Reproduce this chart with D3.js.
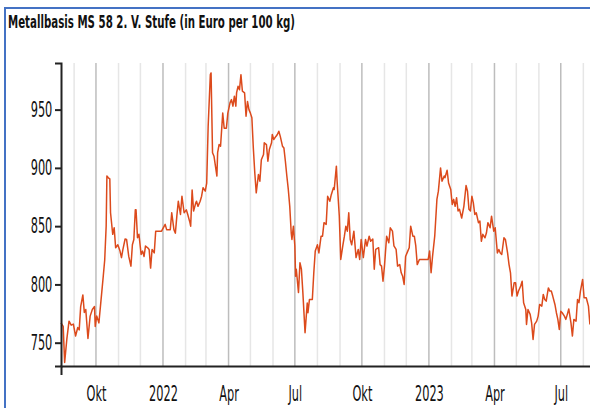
<!DOCTYPE html>
<html>
<head>
<meta charset="utf-8">
<script src="https://cdn.jsdelivr.net/npm/d3@7"></script>
<style>
  body { margin: 0; overflow: hidden; background: #fff; }
  #frame {
    position: absolute; left: 4px; top: 7px;
    width: 700px; height: 500px;
    border: 2px solid #4472c4;
  }
  #chart { position: absolute; left: 0; top: 0; }
</style>
</head>
<body>
<div id="frame"></div>
<div id="chart"></div>
<script>
const title = "Metallbasis MS 58 2. V. Stufe (in Euro per 100 kg)";

// quotation dates, month by month
const dates = [
  "2021-08-14","2021-08-17","2021-08-19","2021-08-22","2021-08-25","2021-08-28","2021-08-31",
  "2021-09-03","2021-09-06","2021-09-08","2021-09-10","2021-09-13","2021-09-15","2021-09-17","2021-09-20","2021-09-23","2021-09-26","2021-09-29","2021-09-30",
  "2021-10-02","2021-10-05","2021-10-08","2021-10-11","2021-10-13","2021-10-15","2021-10-16","2021-10-18","2021-10-20","2021-10-21","2021-10-24","2021-10-26","2021-10-28","2021-10-31",
  "2021-11-03","2021-11-05","2021-11-07","2021-11-10","2021-11-12","2021-11-15","2021-11-18","2021-11-20","2021-11-22","2021-11-24","2021-11-25","2021-11-27","2021-11-29",
  "2021-12-02","2021-12-04","2021-12-06","2021-12-08","2021-12-11","2021-12-13","2021-12-15","2021-12-17","2021-12-20","2021-12-22","2021-12-26","2021-12-30",
  "2022-01-04","2022-01-06","2022-01-11","2022-01-13","2022-01-16","2022-01-18","2022-01-20","2022-01-22","2022-01-25","2022-01-27","2022-01-30",
  "2022-02-02","2022-02-04","2022-02-07","2022-02-08","2022-02-10","2022-02-12","2022-02-15","2022-02-16","2022-02-18","2022-02-21","2022-02-23","2022-02-25","2022-02-28",
  "2022-03-02","2022-03-04","2022-03-07","2022-03-08","2022-03-10","2022-03-12","2022-03-14","2022-03-16","2022-03-17","2022-03-19","2022-03-21","2022-03-24","2022-03-26","2022-03-29","2022-03-31",
  "2022-04-03","2022-04-05","2022-04-07","2022-04-09","2022-04-11","2022-04-12","2022-04-14","2022-04-16","2022-04-18","2022-04-20","2022-04-23","2022-04-25","2022-04-27","2022-04-29",
  "2022-05-01","2022-05-03","2022-05-05","2022-05-07","2022-05-09","2022-05-12","2022-05-14","2022-05-16","2022-05-19","2022-05-20","2022-05-23","2022-05-25","2022-05-27","2022-05-30","2022-05-31",
  "2022-06-02","2022-06-05","2022-06-07","2022-06-09","2022-06-11","2022-06-14","2022-06-16","2022-06-18","2022-06-20","2022-06-22","2022-06-24","2022-06-26","2022-06-27","2022-06-29",
  "2022-07-01","2022-07-02","2022-07-03","2022-07-06","2022-07-08","2022-07-10","2022-07-12","2022-07-15","2022-07-18","2022-07-19","2022-07-21","2022-07-23","2022-07-25","2022-07-27","2022-07-29",
  "2022-08-01","2022-08-03","2022-08-06","2022-08-08","2022-08-10","2022-08-13","2022-08-15","2022-08-18","2022-08-20","2022-08-23","2022-08-24","2022-08-27","2022-08-28","2022-08-31",
  "2022-09-02","2022-09-05","2022-09-07","2022-09-09","2022-09-11","2022-09-13","2022-09-15","2022-09-17","2022-09-20","2022-09-23","2022-09-26","2022-09-28","2022-09-30",
  "2022-10-03","2022-10-06","2022-10-08","2022-10-11","2022-10-13","2022-10-16","2022-10-18","2022-10-20","2022-10-24","2022-10-26","2022-10-28","2022-10-30",
  "2022-11-01","2022-11-04","2022-11-07","2022-11-09","2022-11-12","2022-11-14","2022-11-17","2022-11-19","2022-11-22","2022-11-24","2022-11-26","2022-11-28","2022-11-30",
  "2022-12-03","2022-12-05","2022-12-07","2022-12-10","2022-12-12","2022-12-14","2022-12-16","2022-12-19","2022-12-24","2022-12-31",
  "2023-01-02","2023-01-04","2023-01-06","2023-01-09","2023-01-12","2023-01-14","2023-01-17","2023-01-19","2023-01-22","2023-01-23","2023-01-26","2023-01-28","2023-01-31",
  "2023-02-02","2023-02-04","2023-02-06","2023-02-08","2023-02-10","2023-02-12","2023-02-15","2023-02-18","2023-02-21","2023-02-23","2023-02-25","2023-02-27",
  "2023-03-01","2023-03-03","2023-03-05","2023-03-07","2023-03-10","2023-03-12","2023-03-14","2023-03-16","2023-03-19","2023-03-21","2023-03-23","2023-03-26","2023-03-28","2023-03-31",
  "2023-04-02","2023-04-05","2023-04-07","2023-04-09","2023-04-11","2023-04-14","2023-04-16","2023-04-19","2023-04-21","2023-04-23","2023-04-25","2023-04-28","2023-04-30",
  "2023-05-02","2023-05-04","2023-05-07","2023-05-09","2023-05-11","2023-05-14","2023-05-15","2023-05-17","2023-05-20","2023-05-22","2023-05-24","2023-05-26","2023-05-29","2023-05-31",
  "2023-06-02","2023-06-05","2023-06-07","2023-06-09","2023-06-11","2023-06-14","2023-06-16","2023-06-18","2023-06-20","2023-06-23","2023-06-25","2023-06-27","2023-06-29",
  "2023-07-01","2023-07-03","2023-07-06","2023-07-08","2023-07-10","2023-07-12","2023-07-15","2023-07-17","2023-07-19","2023-07-22","2023-07-24","2023-07-26","2023-07-28","2023-07-31",
  "2023-08-02","2023-08-05","2023-08-08","2023-08-10"
];

// Euro per 100 kg, same order as dates
const prices = [
  767, 764, 733, 753, 768.5, 765, 766,
  755.7, 763, 761, 781, 791, 776, 778.5, 753.7, 772.8, 778.5, 781, 764,
  773, 767, 787, 807, 821, 850, 893, 891.5, 890.6, 861.5, 843, 848.6, 831.5, 834,
  828.6, 823, 830, 839, 838.6, 824, 815.7, 834, 838.6, 864, 864, 840, 843,
  825.7, 828.6, 824, 833, 831.5, 830, 814, 830, 827, 845.7, 845.7, 845.7,
  851.5, 847, 847, 861.5, 847, 844, 858.6, 871.4, 860, 875.7, 861.5,
  864, 860, 853, 850, 881, 863, 870, 871.4, 867, 871.4, 875.7, 883, 880,
  887, 935.8, 980, 981.5, 913, 910, 901.5, 893, 913, 920, 918.6, 947, 934, 934, 947,
  955.8, 958.6, 953, 961.5, 953, 964.4, 970, 967, 980, 965.8, 964.4, 944.3, 957, 950,
  947, 943, 917, 895.8, 878.6, 894.3, 888.6, 907, 911.5, 921.5, 920, 905.7, 915.8, 921.5, 928.6,
  924.4, 927, 928.6, 931.5, 927, 918.6, 917, 905.7, 893, 881.5, 867, 844.3, 838.6, 850,
  833, 807, 813, 793, 818.6, 813, 793, 758.6, 784, 775.7, 787, 787, 787, 810, 828.6,
  834, 827, 841.4, 841.4, 853, 851.5, 875.7, 871.4, 877, 883, 881.5, 901.5, 888.6, 858.6,
  821.4, 834, 841.4, 850, 845.7, 861.5, 838.6, 834, 845.7, 823, 830, 821.4, 838.6,
  823, 838.6, 833, 841.4, 837, 839, 813, 830, 831.5, 817, 815.7, 802.8,
  815.7, 841.4, 835.8, 848.6, 845.7, 833, 830, 815.7, 817, 810, 807, 800, 824,
  828.6, 831.5, 850, 841.4, 841.4, 833, 817, 821.4, 821.4, 821.4,
  828.6, 810, 824, 841.4, 873, 880, 900, 888.6, 893, 891.5, 898, 887, 881.5,
  868.6, 873, 867, 874.4, 863, 864.4, 857, 867, 884.9, 880, 864.4, 863,
  875.7, 870, 860, 861.5, 853, 854.3, 837, 843, 840, 844.3, 853, 848.6, 858.6, 845.7,
  848.6, 827, 830, 827, 825.7, 840, 838.6, 827, 817, 810, 790, 801.4, 801.4,
  790, 794.3, 798.6, 802.8, 784.3, 778.5, 765.7, 778.5, 774.3, 767, 752.8, 765.7, 768.5, 772.8,
  782.8, 781.4, 791.4, 787, 785.7, 797, 794.3, 794.3, 790, 782.8, 775.7, 770, 761.4,
  777, 775.7, 772.8, 770, 774.3, 779, 767, 755.7, 770, 768.5, 787, 784.3, 794.3, 804.3,
  788.6, 788.6, 781.4, 765.7
];

const yTicks = [750, 800, 850, 900, 950];
const monthNames = ["Jan", "Feb", "Mär", "Apr", "Mai", "Jun", "Jul", "Aug", "Sep", "Okt", "Nov", "Dez"];

const width = 590, height = 408;
const margin = { top: 63, left: 61, bottom: 42 };
const textScale = 0.54;

const parse = d3.timeParse("%Y-%m-%d");
const data = dates.map((d, i) => ({ date: parse(d), value: prices[i] }));

const svg = d3.select("#chart").append("svg")
  .attr("width", width)
  .attr("height", height);

svg.append("text")
  .attr("x", 8)
  .attr("y", 28)
  .attr("textLength", 287)
  .attr("lengthAdjust", "spacingAndGlyphs")
  .style("font-family", "DejaVu Sans, sans-serif")
  .style("font-weight", "bold")
  .style("font-size", "18px")
  .style("fill", "#111")
  .text(title);

const start = new Date(2021, 7, 14), end = new Date(2023, 7, 17);
const x = d3.scaleTime().domain([start, end]).range([margin.left, 595]);
const y = d3.scaleLinear().domain([730, 990]).range([height - margin.bottom, margin.top]);

// monthly grid, quarters darker
const months = d3.timeMonth.range(d3.timeMonth.ceil(start), end);
svg.append("g")
  .selectAll("line")
  .data(months)
  .join("line")
  .attr("x1", d => x(d))
  .attr("x2", d => x(d))
  .attr("y1", margin.top)
  .attr("y2", height - margin.bottom)
  .attr("stroke", d => d.getMonth() % 3 == 0 ? "#bdbdbd" : "#e6e6e6")
  .attr("stroke-width", 1.5);

const line = d3.line()
  .x(d => x(d.date))
  .y(d => y(d.value));

svg.append("path")
  .datum(data)
  .attr("fill", "none")
  .attr("stroke", "#dc4a1c")
  .attr("stroke-width", 1.5)
  .attr("stroke-linejoin", "round")
  .attr("d", line);

// y axis
const yAxis = svg.append("g")
  .attr("transform", `translate(${margin.left},0)`)
  .call(d3.axisLeft(y).tickValues(yTicks).tickSize(6).tickPadding(3));

// x axis, labels on quarters only
const quarters = months.filter(d => d.getMonth() % 3 == 0);
const xAxis = svg.append("g")
  .attr("transform", `translate(0,${height - margin.bottom})`)
  .call(d3.axisBottom(x)
    .tickValues(quarters)
    .tickSizeInner(0)
    .tickSizeOuter(9)
    .tickFormat(d => d.getMonth() == 0 ? d.getFullYear() : monthNames[d.getMonth()]));

[xAxis, yAxis].forEach(g => {
  g.select(".domain").attr("stroke", "#222").attr("stroke-width", 2);
  g.selectAll(".tick line").attr("stroke", "#222").attr("stroke-width", 2);
  g.selectAll("text")
    .style("font-family", "DejaVu Sans, sans-serif")
    .style("font-size", "21px")
    .attr("fill", "#111");
});

yAxis.selectAll("text")
  .attr("x", -8.7 / textScale)
  .attr("transform", `scale(${textScale},1)`);

xAxis.selectAll("text")
  .attr("y", 35)
  .attr("dy", 0)
  .attr("transform", `scale(${textScale},1)`);
</script>
</body>
</html>
